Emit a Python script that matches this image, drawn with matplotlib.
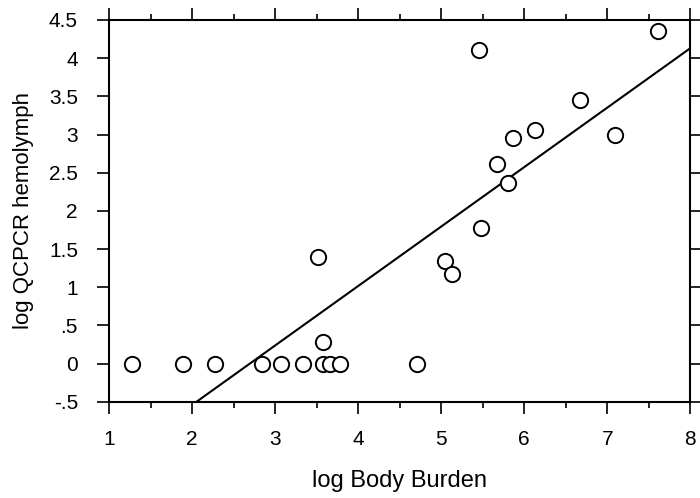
import numpy as np
import matplotlib
matplotlib.use("Agg")
from matplotlib import pyplot as plt
from matplotlib.ticker import MultipleLocator

plt.rcParams["font.family"] = ["Liberation Sans", "DejaVu Sans"]

# log Body Burden vs log QCPCR hemolymph
body_burden = [1.28, 1.89, 2.28, 2.84, 3.07, 3.34, 3.57, 3.66, 3.78, 4.71,
               3.51, 3.57, 5.05, 5.13, 5.48, 5.81, 5.67, 5.87, 6.13, 6.67,
               7.09, 5.45, 7.61]
qcpcr = [0, 0, 0, 0, 0, 0, 0, 0, 0, 0,
         1.40, 0.29, 1.35, 1.17, 1.77, 2.37, 2.61, 2.95, 3.06, 3.45,
         2.99, 4.10, 4.35]

# regression line
slope = 0.778
intercept = -2.095

x_ticks = [1, 2, 3, 4, 5, 6, 7, 8]
y_ticks = [-0.5, 0, 0.5, 1, 1.5, 2, 2.5, 3, 3.5, 4, 4.5]
y_labels = ["-.5", "0", ".5", "1", "1.5", "2", "2.5", "3", "3.5", "4", "4.5"]

fig = plt.figure(figsize=(7, 4.98), dpi=100)
ax = fig.add_axes([0.156, 0.193, 0.830, 0.767])

ax.plot(body_burden, qcpcr, "o", ms=11, mfc="white", mec="black", mew=1.4,
        zorder=3)

x_start = (-0.5 - intercept) / slope
xs = np.array([x_start, 8])
ax.plot(xs, slope * xs + intercept, color="black", lw=1.5, zorder=2)

ax.set_xlim(1, 8)
ax.set_ylim(-0.5, 4.5)
ax.set_xticks(x_ticks)
ax.xaxis.set_minor_locator(MultipleLocator(0.5))
ax.set_yticks(y_ticks)
ax.set_yticklabels(y_labels)

ax.tick_params(which="both", direction="out", top=True, right=True,
               labelsize=15, width=1.2, color="black")
ax.tick_params(which="major", length=8.5)
ax.tick_params(axis="x", which="major", pad=12)
ax.tick_params(axis="y", which="major", pad=14)
ax.tick_params(which="minor", length=4.5)
for sp in ax.spines.values():
    sp.set_linewidth(1.5)

ax.set_xlabel("log Body Burden", fontsize=17, labelpad=15)
ax.set_ylabel("log QCPCR hemolymph", fontsize=16, labelpad=11)

fig.savefig("out.png", dpi=100)
